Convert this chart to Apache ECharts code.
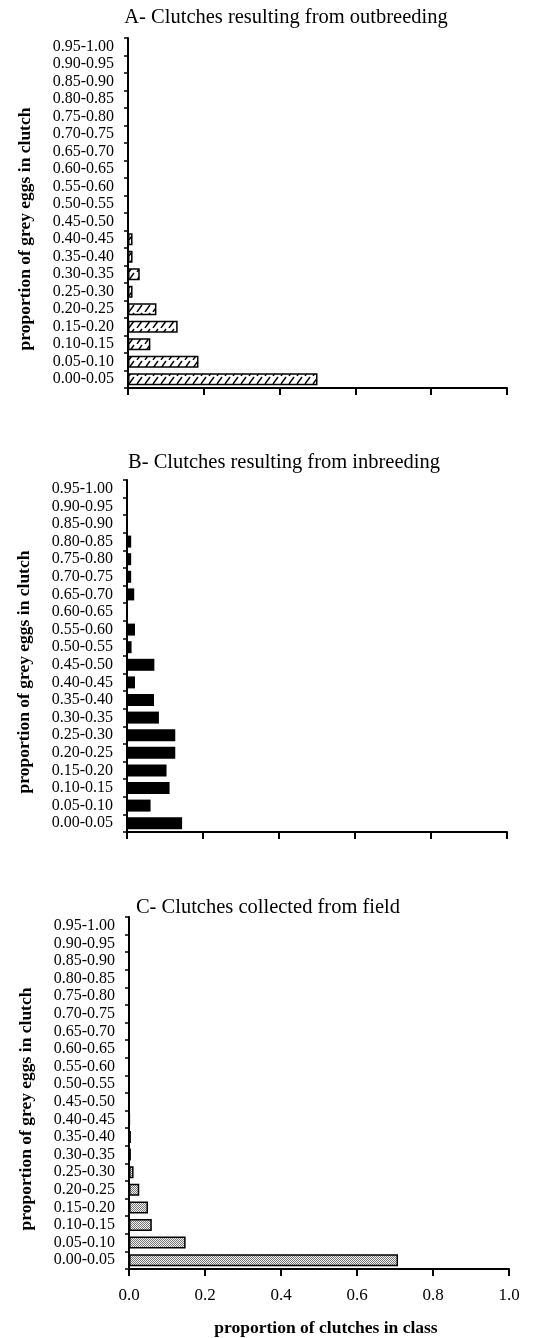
<!DOCTYPE html>
<html>
<head>
<meta charset="utf-8">
<script src="https://cdn.jsdelivr.net/npm/echarts@6/dist/echarts.min.js"></script>
<style>
  html, body { margin: 0; padding: 0; background: #fff; }
  #chart { width: 533px; height: 1338px; }
</style>
</head>
<body>
<div id="chart"></div>
<script>
// classes of proportion of grey eggs, bottom to top
const classes = ['0.00-0.05', '0.05-0.10', '0.10-0.15', '0.15-0.20', '0.20-0.25',
  '0.25-0.30', '0.30-0.35', '0.35-0.40', '0.40-0.45', '0.45-0.50',
  '0.50-0.55', '0.55-0.60', '0.60-0.65', '0.65-0.70', '0.70-0.75',
  '0.75-0.80', '0.80-0.85', '0.85-0.90', '0.90-0.95', '0.95-1.00'];

// A- outbreeding
const outbreeding = [0.50, 0.186, 0.059, 0.131, 0.075, 0.012, 0.031, 0.012, 0.012, 0,
  0, 0, 0, 0, 0, 0, 0, 0, 0, 0];
// B- inbreeding
const inbreeding = [0.145, 0.062, 0.112, 0.104, 0.127, 0.127, 0.084, 0.071, 0.021, 0.072,
  0.012, 0.021, 0, 0.019, 0.011, 0.011, 0.011, 0.002, 0, 0];
// C- field
const field = [0.708, 0.149, 0.060, 0.050, 0.027, 0.012, 0.005, 0.005, 0.002, 0,
  0, 0, 0, 0, 0, 0, 0, 0, 0, 0];

const titles = ['A- Clutches resulting from outbreeding',
  'B- Clutches resulting from inbreeding',
  'C- Clutches collected from field'];

const FONT = '"Liberation Serif", "DejaVu Serif", serif';

// fill patterns
function hatchTile() {
  const c = document.createElement('canvas');
  c.width = 8; c.height = 8;
  const g = c.getContext('2d');
  g.fillStyle = '#fff';
  g.fillRect(0, 0, 8, 8);
  g.strokeStyle = '#000';
  g.lineWidth = 1.4;
  g.beginPath();
  g.moveTo(1, 8); g.lineTo(6, 1);
  g.stroke();
  return c;
}
function dotTile() {
  const c = document.createElement('canvas');
  c.width = 2; c.height = 2;
  const g = c.getContext('2d');
  g.fillStyle = '#f0f0f0';
  g.fillRect(0, 0, 2, 2);
  g.fillStyle = '#777';
  g.fillRect(0, 0, 1, 1);
  g.fillRect(1, 1, 1, 1);
  return c;
}

const grids = [
  { left: 128, top: 38, width: 379, height: 350 },
  { left: 127, top: 480, width: 380, height: 352 },
  { left: 129, top: 917, width: 380, height: 352 }
];
const titleCenters = [286, 284, 268];
const titleTops = [7, 452, 897];
const fills = [
  { color: { image: hatchTile(), repeat: 'repeat' }, borderColor: '#000', borderWidth: 1.5 },
  { color: '#000' },
  { color: { image: dotTile(), repeat: 'repeat' }, borderColor: '#000', borderWidth: 1.5 }
];
const datasets = [outbreeding, inbreeding, field];

const chart = echarts.init(document.getElementById('chart'));

const option = {
  backgroundColor: '#fff',
  animation: false,
  title: titles.map((t, i) => ({
    text: t,
    left: titleCenters[i],
    textAlign: 'center',
    top: titleTops[i],
    padding: 0,
    textStyle: { fontFamily: FONT, fontSize: 20.5, fontWeight: 'normal', color: '#000' }
  })),
  grid: grids,
  xAxis: grids.map((g, i) => ({
    gridIndex: i,
    type: 'value',
    min: 0,
    max: 1,
    interval: 0.2,
    splitLine: { show: false },
    axisLine: { show: true, lineStyle: { color: '#000', width: 2 } },
    axisTick: { show: true, length: 7, lineStyle: { color: '#000', width: 2 } },
    axisLabel: {
      show: i === 2,
      margin: 18,
      fontFamily: FONT,
      fontSize: 17,
      color: '#000',
      formatter: v => v.toFixed(1)
    },
    name: i === 2 ? 'proportion of clutches in class' : '',
    nameLocation: 'middle',
    nameGap: 50,
    nameTextStyle: { fontFamily: FONT, fontSize: 17.5, fontWeight: 'bold', color: '#000', padding: [0, 0, 0, 14] }
  })),
  yAxis: grids.map((g, i) => ({
    gridIndex: i,
    type: 'category',
    data: classes,
    axisLine: { show: true, lineStyle: { color: '#000', width: 2 } },
    axisTick: { show: true, length: 4, lineStyle: { color: '#000', width: 1.5 } },
    axisLabel: { interval: 0, margin: 14, fontFamily: FONT, fontSize: 16, color: '#000' },
    name: 'proportion of grey eggs in clutch',
    nameLocation: 'middle',
    nameGap: 94,
    nameTextStyle: { fontFamily: FONT, fontSize: 17.5, fontWeight: 'bold', color: '#000', padding: [0, 32, 0, 0] }
  })),
  series: datasets.map((d, i) => ({
    type: 'bar',
    xAxisIndex: i,
    yAxisIndex: i,
    data: d,
    barWidth: 12,
    itemStyle: fills[i]
  }))
};

chart.setOption(option);
</script>
</body>
</html>
